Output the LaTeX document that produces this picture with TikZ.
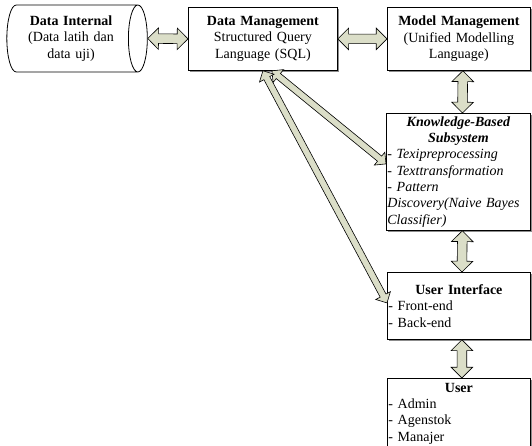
\documentclass[tikz,border=0pt]{standalone}
\usepackage{fontspec}
\setmainfont{Liberation Serif}
\usetikzlibrary{shapes.geometric,shapes.arrows,shadows,calc}

\definecolor{arrowfill}{RGB}{219,222,200}
\definecolor{shadowgray}{RGB}{140,140,140}

\tikzset{
  box/.style={draw, fill=white, line width=0.8pt, inner xsep=1pt, inner ysep=2pt,
    text width=#1, align=center, font=\fontsize{14}{16.3}\selectfont,
    drop shadow={shadow xshift=1.5pt, shadow yshift=-1.5pt, fill=shadowgray, opacity=1}},
  box/.default=141pt,
  store/.style={cylinder, draw, fill=white, line width=0.8pt, aspect=0.4,
    minimum height=133pt, minimum width=67pt, inner sep=1pt, text width=112pt,
    align=center, font=\fontsize{14}{16.3}\selectfont},
  dbl/.style={double arrow, draw, fill=arrowfill, line width=0.6pt, inner xsep=0pt,
    inner ysep=4.5pt, double arrow head extend=6pt, double arrow head indent=0pt},
  thin dbl/.style={dbl, inner ysep=3pt, double arrow head extend=5pt},
}

% double block arrow between two points
\newcommand{\dblink}[3][]{%
  \path let \p1=($(#3)-(#2)$), \n1={veclen(\x1,\y1)} in
    (#2) -- (#3) node[dbl, sloped, midway, minimum height=\n1, #1] {};}

\begin{document}
\begin{tikzpicture}[x=1pt, y=-1pt]
  \clip (0,0) rectangle (532,446);
  % top row
  \node[store] (di) at (71,38.5)
    {\textbf{Data Internal}\\(Data latih dan\\data uji)};
  \node[box=147pt, anchor=north west, minimum height=63] (dm) at (188,7)
    {\textbf{Data Management}\\Structured Query\\Language (SQL)};
  \node[box, anchor=north west, minimum height=63] (mm) at (387,7)
    {\textbf{Model Management}\\(Unified Modelling\\Language)};
  % right column
  \node[box=142pt, anchor=north west, minimum height=117, align=left,
    font=\fontsize{14}{16.3}\selectfont\itshape] (kbs) at (386,113)
    {{\centering\bfseries Knowledge-Based\\Subsystem\par}- Texipreprocessing\\
     - Texttransformation\\- Pattern\\Discovery(Naive Bayes\\Classifier)};
  \node[box, anchor=north west, minimum height=67, align=left] (ui) at (387,272)
    {{\centering\bfseries User Interface\par}- Front-end\\- Back-end};
  \node[box, anchor=north west, minimum height=80] (user) at (387,378) {};
  \node[anchor=north, inner xsep=1pt, inner ysep=5pt, text width=141pt, align=left,
    font=\fontsize{14}{16.3}\selectfont] (userlist) at (user.north)
    {{\centering\bfseries User\par}- Admin\\- Agenstok\\- Manajer};
  % arrows
  \dblink{di.east}{dm.west}
  \dblink{dm.east}{mm.west}
  \dblink{[xshift=4pt]mm.south}{[xshift=4pt]kbs.north}
  \dblink{[xshift=4pt]kbs.south}{[xshift=3pt]ui.north}
  \dblink{[xshift=3pt]ui.south}{[xshift=3pt]user.north}
  \dblink[thin dbl]{[xshift=9pt]dm.south}{[yshift=8pt]kbs.west}
  \dblink[thin dbl]{dm.south}{[yshift=3pt]ui.west}
\end{tikzpicture}
\end{document}
